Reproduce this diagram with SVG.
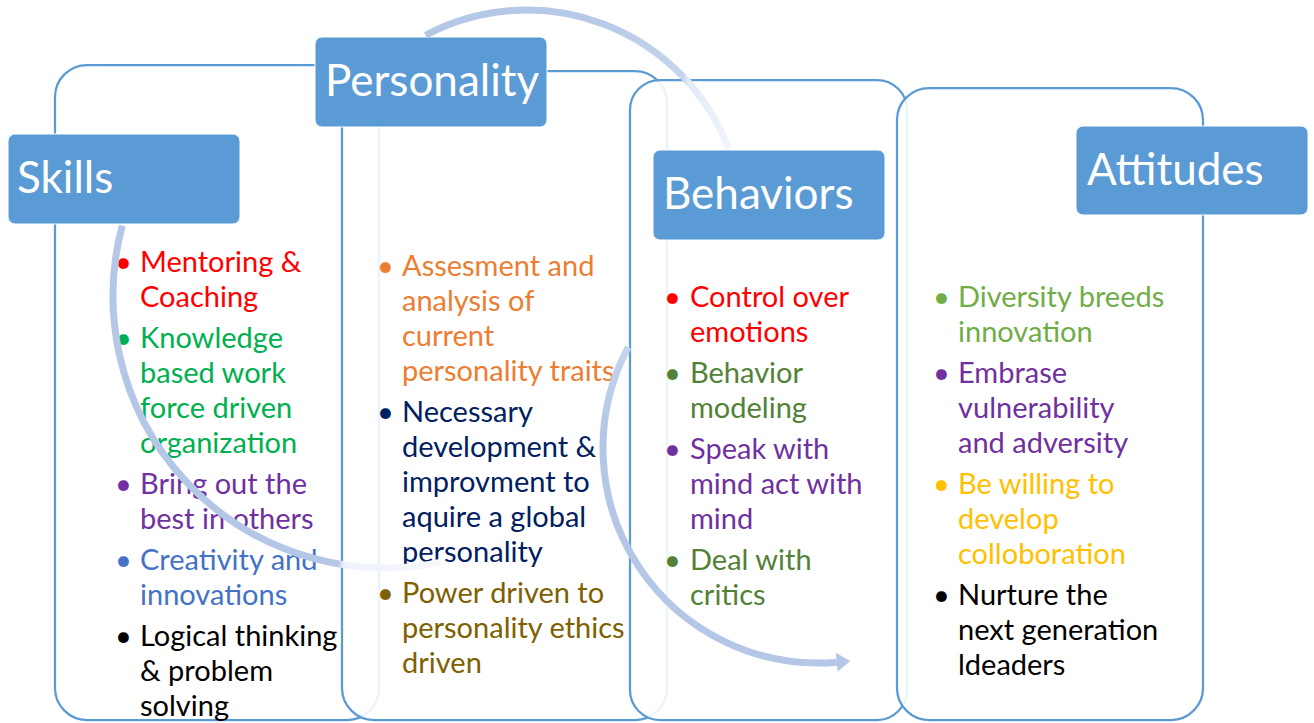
<svg xmlns="http://www.w3.org/2000/svg" width="1314" height="723" viewBox="0 0 1314 723">
<style>
.box{fill:#fff;fill-opacity:.88;stroke:#5b9bd5;stroke-width:2.25}
.hdr{fill:#5b9bd5;stroke:#fff;stroke-width:1}
.ht{font-family:Lato,"Liberation Sans",sans-serif;font-size:44px;fill:#fff}
.bt{font-family:Lato,"Liberation Sans",sans-serif;font-size:29px}
.arc{fill:none;stroke-width:7}
.red{fill:#ff0000}.grn{fill:#00b050}.pur{fill:#7030a0}.blu{fill:#4472c4}.blk{fill:#000}
.org{fill:#ed7d31}.nav{fill:#002060}.olv{fill:#7f6000}.dgr{fill:#538135}.lgr{fill:#70ad47}.gld{fill:#ffc000}
</style>
<defs>
<linearGradient id="gA" gradientUnits="userSpaceOnUse" x1="100" y1="0" x2="442" y2="0">
<stop offset="0" stop-color="#b4c7e7"/><stop offset="0.696" stop-color="#b4c7e7"/><stop offset="0.713" stop-color="#edf2f9"/><stop offset="1" stop-color="#f7f9fd"/>
</linearGradient>
<linearGradient id="gB" gradientUnits="userSpaceOnUse" x1="425" y1="0" x2="729" y2="0">
<stop offset="0" stop-color="#b4c7e7"/><stop offset="0.576" stop-color="#b8cae8"/><stop offset="0.849" stop-color="#c6d5ed"/><stop offset="0.865" stop-color="#e2eaf6"/><stop offset="1" stop-color="#f0f4fa"/>
</linearGradient>
<linearGradient id="gC" gradientUnits="userSpaceOnUse" x1="0" y1="345" x2="0" y2="430">
<stop offset="0" stop-color="#c6d5ed"/><stop offset="1" stop-color="#b4c7e7"/>
</linearGradient>
</defs>

<g id="skills">
<rect class="box" x="55" y="65" width="324" height="655" rx="32"/>
<g class="bt">
<text x="115" y="272" class="red">•</text><text x="140" y="272" class="red">Mentoring &amp;</text>
<text x="140" y="307" class="red">Coaching</text>
<text x="115" y="348" class="grn">•</text><text x="140" y="348" class="grn">Knowledge</text>
<text x="140" y="383" class="grn">based work</text>
<text x="140" y="418" class="grn">force driven</text>
<text x="140" y="453" class="grn">organization</text>
<text x="115" y="494" class="pur">•</text><text x="140" y="494" class="pur">Bring out the</text>
<text x="140" y="529" class="pur">best in others</text>
<text x="115" y="570" class="blu">•</text><text x="140" y="570" class="blu">Creativity and</text>
<text x="140" y="605" class="blu">innovations</text>
<text x="115" y="646" class="blk">•</text><text x="140" y="646" class="blk">Logical thinking</text>
<text x="140" y="681" class="blk">&amp; problem</text>
<text x="140" y="716" class="blk">solving</text>
</g>
<rect class="hdr" x="8" y="134" width="232" height="90" rx="7"/>
<text class="ht" x="17" y="193">Skills</text>
</g>

<g id="personality">
<rect class="box" x="342" y="71" width="325" height="649" rx="32"/>
<g class="bt">
<text x="377" y="276" class="org">•</text><text x="402" y="276" class="org">Assesment and</text>
<text x="402" y="311" class="org">analysis of</text>
<text x="402" y="346" class="org">current</text>
<text x="402" y="381" class="org">personality traits</text>
<text x="377" y="422" class="nav">•</text><text x="402" y="422" class="nav">Necessary</text>
<text x="402" y="457" class="nav">development &amp;</text>
<text x="402" y="492" class="nav">improvment to</text>
<text x="402" y="527" class="nav">aquire a global</text>
<text x="402" y="562" class="nav">personality</text>
<text x="377" y="603" class="olv">•</text><text x="402" y="603" class="olv">Power driven to</text>
<text x="402" y="638" class="olv">personality ethics</text>
<text x="402" y="673" class="olv">driven</text>
</g>
<rect class="hdr" x="315" y="37" width="232" height="90" rx="7"/>
<text class="ht" x="325" y="96">Personality</text>
</g>

<g id="behaviors">
<rect class="box" x="630" y="80" width="277" height="640" rx="30"/>
<g class="bt">
<text x="664" y="307" class="red">•</text><text x="690" y="307" class="red">Control over</text>
<text x="690" y="342" class="red">emotions</text>
<text x="664" y="383" class="dgr">•</text><text x="690" y="383" class="dgr">Behavior</text>
<text x="690" y="418" class="dgr">modeling</text>
<text x="664" y="459" class="pur">•</text><text x="690" y="459" class="pur">Speak with</text>
<text x="690" y="494" class="pur">mind act with</text>
<text x="690" y="529" class="pur">mind</text>
<text x="664" y="570" class="dgr">•</text><text x="690" y="570" class="dgr">Deal with</text>
<text x="690" y="605" class="dgr">critics</text>
</g>
<rect class="hdr" x="653" y="150" width="232" height="90" rx="7"/>
<text class="ht" x="663" y="209">Behaviors</text>
</g>

<g id="attitudes">
<rect class="box" x="897" y="88" width="306" height="632" rx="32"/>
<g class="bt">
<text x="933" y="307" class="lgr">•</text><text x="958" y="307" class="lgr">Diversity breeds</text>
<text x="958" y="342" class="lgr">innovation</text>
<text x="933" y="383" class="pur">•</text><text x="958" y="383" class="pur">Embrase</text>
<text x="958" y="418" class="pur">vulnerability</text>
<text x="958" y="453" class="pur">and adversity</text>
<text x="933" y="494" class="gld">•</text><text x="958" y="494" class="gld">Be willing to</text>
<text x="958" y="529" class="gld">develop</text>
<text x="958" y="564" class="gld">colloboration</text>
<text x="933" y="605" class="blk">•</text><text x="958" y="605" class="blk">Nurture the</text>
<text x="958" y="640" class="blk">next generation</text>
<text x="958" y="675" class="blk">ldeaders</text>
</g>
<rect class="hdr" x="1076" y="126" width="232" height="89" rx="7"/>
<text class="ht" x="1087" y="185">Attitudes</text>
</g>

<g id="connectors">
<path class="arc" stroke="url(#gA)" d="M122.27,225.6 A272,272 0 0 0 441.55,562.06"/>
<path class="arc" stroke="url(#gB)" d="M425.59,35.28 A216,216 0 0 1 728.65,148.59"/>
<path class="arc" stroke="url(#gC)" d="M628.17,347.06 A215,215 0 0 0 836.74,662.18"/>
<polygon fill="#b4c7e7" points="850.19,661 837.57,671.64 835.91,652.72"/>
</g>
</svg>
